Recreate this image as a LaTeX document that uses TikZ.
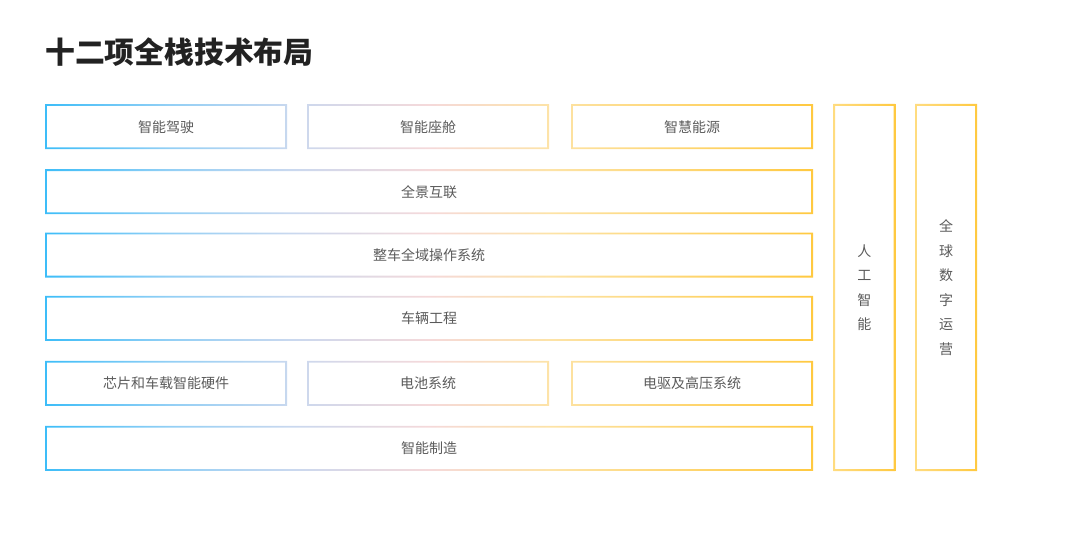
\documentclass[tikz,border=0pt]{standalone}
\usepackage{fontspec}
\newfontfamily\cjk{Noto Sans CJK SC}
\usetikzlibrary{positioning}
\definecolor{cblue}{HTML}{3DBDF8}
\definecolor{cblue2}{HTML}{92CFF5}
\definecolor{clav}{HTML}{C9D8EF}
\definecolor{cpink}{HTML}{F5D9DA}
\definecolor{cylight}{HTML}{FDE3A6}
\definecolor{cyellow}{HTML}{FFC940}
\definecolor{cyellow2}{HTML}{FFDC80}
\definecolor{textgray}{HTML}{5A5A5A}
\definecolor{titlegray}{HTML}{222222}
\pgfdeclarehorizontalshading{rowshade}{100bp}{color(0bp)=(cblue); color(25bp)=(cblue);
  color(33bp)=(cblue2); color(41bp)=(clav); color(50bp)=(cpink);
  color(58bp)=(cylight); color(75bp)=(cyellow); color(100bp)=(cyellow)}
\tikzset{
  tile/.style={
    rectangle, inner sep=0pt, outer sep=0pt,
    minimum height=45pt,
    font=\cjk\fontsize{14}{14}\selectfont, text=textgray,
  },
  small/.style={tile, minimum width=242pt},
  wide/.style={tile, minimum width=768pt},
  pillar/.style={
    tile, minimum width=62pt, minimum height=367pt,
    align=center, font=\cjk\fontsize{14}{24.5}\selectfont,
  },
  pillarring/.style={
    left color=cyellow2, right color=cyellow, even odd rule,
  }
}
\begin{document}
\begin{tikzpicture}[x=1pt,y=-1pt]
\useasboundingbox (0,0) rectangle (1080,535);
\node [anchor=west, inner sep=0pt, text=titlegray,
  font=\cjk\bfseries\fontsize{29.8}{29.8}\selectfont] (title) at (45,51.7) {十二项全栈技术布局};
% top row
\node [small] (drive) at (166,126.7) {智能驾驶};
\node [small] (cabin) at (428,126.7) {智能座舱};
\node [small] (energy) at (692,126.7) {智慧能源};
% full width rows
\node [wide] (link) at (429,191.7) {全景互联};
\node [wide] (os) at (429,255) {整车全域操作系统};
\node [wide] (eng) at (429,318.4) {车辆工程};
\node [small] (chip) at (166,383.4) {芯片和车载智能硬件};
\node [small] (batt) at (428,383.4) {电池系统};
\node [small] (edrive) at (692,383.4) {电驱及高压系统};
\node [wide] (manu) at (429,448.4) {智能制造};
% columns
\node [pillar] (ai) at (864.3,287.5) {人\\工\\智\\能};
\node [pillar] (ops) at (946,287.5) {全\\球\\数\\字\\运\\营};
% gradient borders
\begin{scope}[even odd rule]
\clip \foreach \n in {drive,cabin,energy,link,os,eng,chip,batt,edrive,manu} {
  (\n.south west) rectangle (\n.north east)
  ([shift={(1.8pt,1.8pt)}]\n.south west) rectangle ([shift={(-1.8pt,-1.8pt)}]\n.north east)};
\shade [shading=rowshade] (drive.north west) rectangle (manu.south east);
\end{scope}
\foreach \n in {ai,ops}
  \shade [pillarring] (\n.south west) rectangle (\n.north east)
    ([shift={(1.8pt,1.8pt)}]\n.south west) rectangle ([shift={(-1.8pt,-1.8pt)}]\n.north east);
\end{tikzpicture}
\end{document}
